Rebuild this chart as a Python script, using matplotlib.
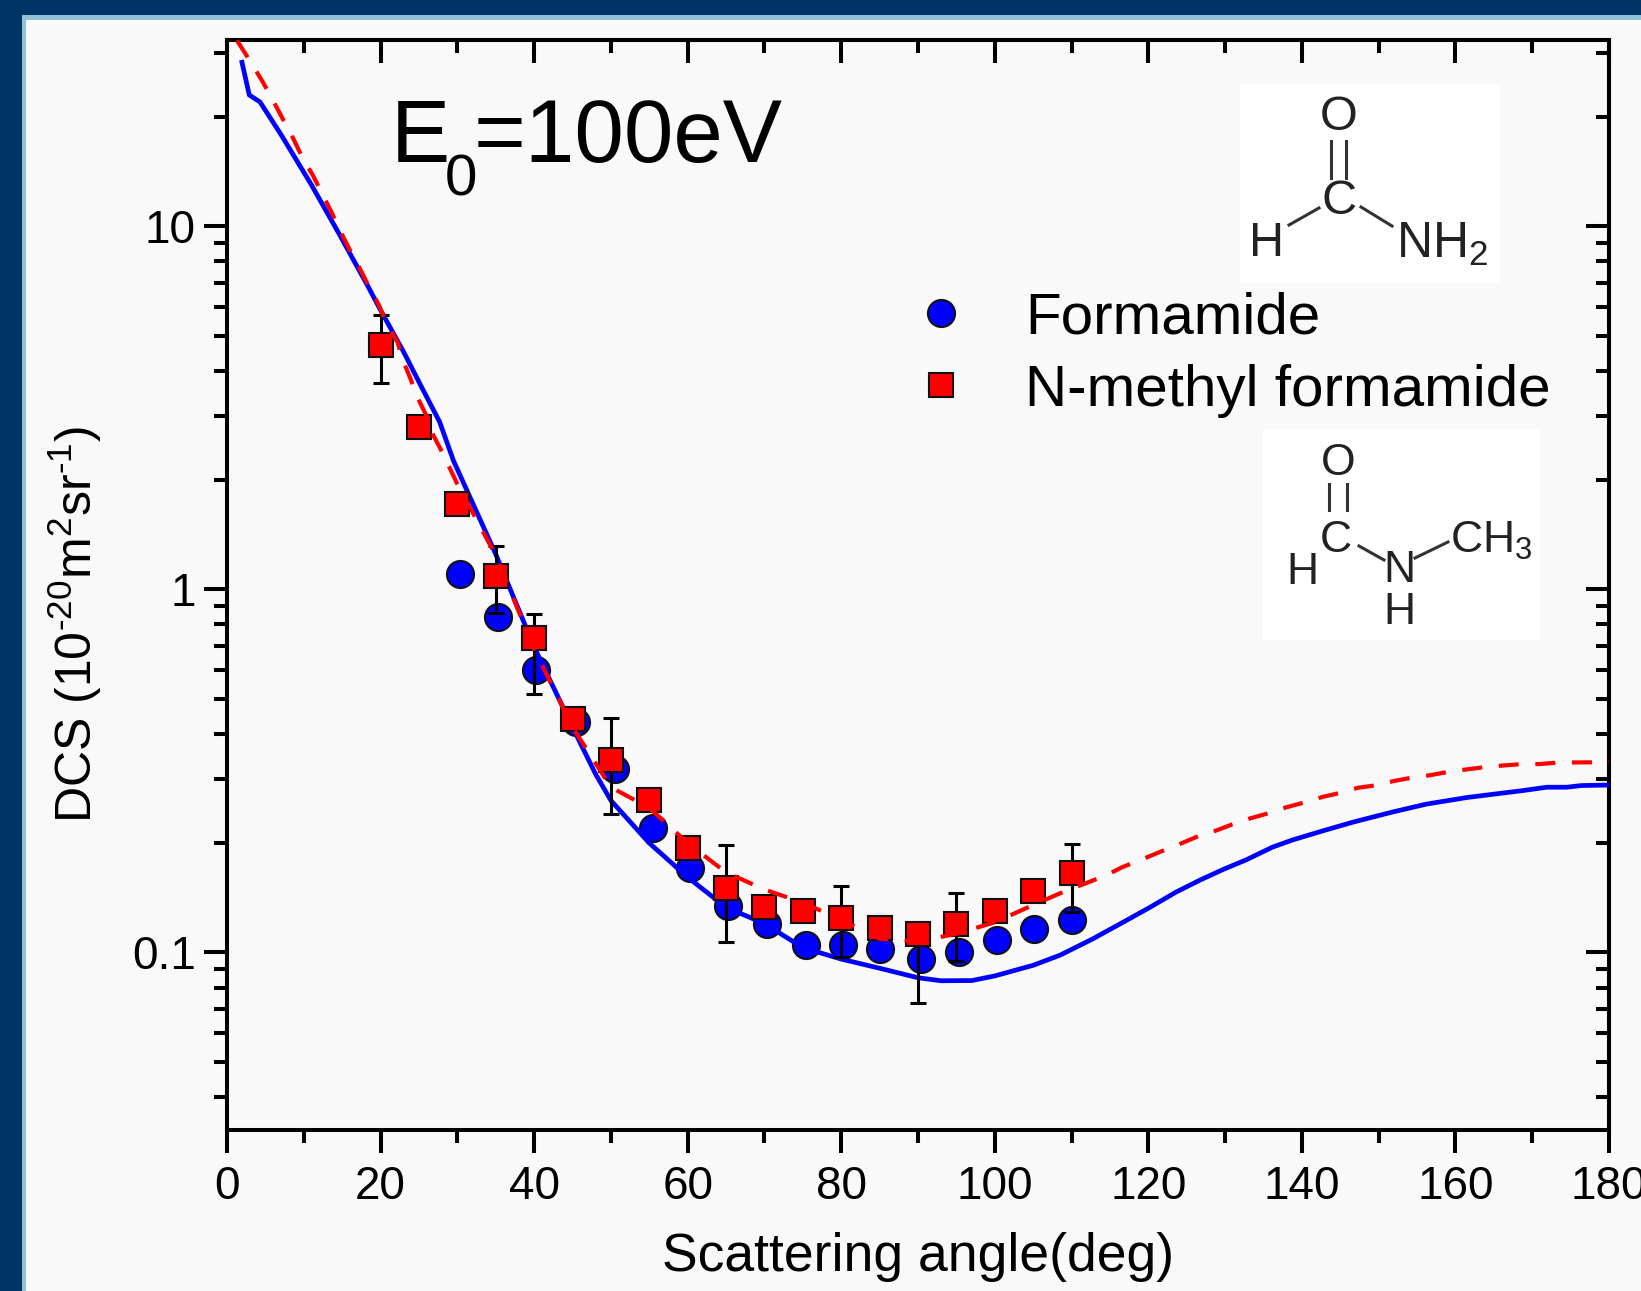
"""DCS of formamide and N-methyl formamide at 100 eV."""

import matplotlib
matplotlib.use("Agg")
import matplotlib.pyplot as plt
from matplotlib.lines import Line2D
from matplotlib.patches import Rectangle
from matplotlib.ticker import FixedLocator, NullFormatter

W, H = 1641, 1291

form_x = [30.3, 35.3, 40.3, 45.5, 50.5, 55.5, 60.3, 65.3, 70.3, 75.4, 80.2, 85.1, 90.4, 95.4, 100.3, 105.1, 110.1]
form_y = [1.105, 0.841, 0.600, 0.431, 0.319, 0.220, 0.171, 0.134, 0.120, 0.105, 0.105, 0.102, 0.096, 0.100, 0.108, 0.116, 0.123]

nmf_x = [20, 25, 30, 35, 40, 45, 50, 55, 60, 65, 70, 75, 80, 85, 90, 95, 100, 105, 110]
nmf_y = [4.70, 2.80, 1.72, 1.09, 0.732, 0.439, 0.339, 0.263, 0.194, 0.150, 0.133, 0.130, 0.124, 0.117, 0.112, 0.120, 0.130, 0.148, 0.165]

err_x = [20, 35, 40, 50, 65, 80, 90, 95, 110]
err_mid = [4.70, 1.09, 0.732, 0.339, 0.150, 0.124, 0.112, 0.120, 0.165]
err_hi = [5.69, 1.32, 0.853, 0.442, 0.197, 0.152, 0.120, 0.146, 0.199]
err_lo = [3.70, 0.858, 0.515, 0.240, 0.107, 0.097, 0.0727, 0.0945, 0.129]

theory_form_x = [1.95, 2.9, 4.3, 7.1, 11.0, 14.7, 18.4, 19.9, 23, 25.1, 27.7, 29.5, 35, 40, 45, 48, 50, 55, 60, 65, 70, 75, 80, 85, 90, 93, 97, 100, 105, 108.5, 112.8, 116.7, 120.2, 123.6, 126.7, 129.7, 132.8, 136.2, 138.8, 142.7, 146.7, 151.8, 156.2, 161.5, 168.8, 171.9, 174.5, 176.4, 180]
theory_form_y = [28.3, 23.0, 22.0, 17.8, 13.0, 9.45, 6.81, 5.93, 4.51, 3.69, 2.89, 2.26, 1.25, 0.694, 0.417, 0.31, 0.262, 0.20, 0.161, 0.133, 0.120, 0.103, 0.0958, 0.0904, 0.0851, 0.0835, 0.0836, 0.0861, 0.0921, 0.0982, 0.109, 0.121, 0.133, 0.1465, 0.158, 0.169, 0.180, 0.195, 0.204, 0.216, 0.2285, 0.2435, 0.256, 0.267, 0.279, 0.285, 0.285, 0.288, 0.289]

theory_nmf_x = [1.3, 3.2, 4.7, 6.0, 7.3, 8.6, 9.8, 11.2, 12.3, 13.6, 14.7, 16, 17.2, 18.5, 19.7, 20.8, 22.2, 22.9, 23.9, 24.9, 26, 26.9, 28.1, 30, 35, 40, 45, 50, 55, 60, 65, 70, 75, 80, 85, 90, 95, 100, 105, 108.5, 114.5, 116.7, 119.1, 121.5, 123.9, 126.3, 128.7, 130.9, 133.3, 135.6, 138, 140.4, 142.7, 145, 147.3, 149.7, 152, 154.4, 156.7, 159, 161.4, 163.8, 166.2, 168.6, 170.9, 173.2, 175.5, 180]
theory_nmf_y = [32.5, 28.1, 24.9, 22.2, 19.7, 17.5, 15.5, 13.8, 12.4, 10.95, 9.75, 8.6, 7.73, 6.81, 6.12, 5.4, 4.8, 4.28, 3.8, 3.35, 3.0, 2.65, 2.37, 1.95, 1.24, 0.685, 0.417, 0.285, 0.25, 0.20, 0.166, 0.149, 0.137, 0.123, 0.109, 0.107, 0.1125, 0.121, 0.135, 0.1454, 0.163, 0.172, 0.180, 0.189, 0.198, 0.208, 0.216, 0.225, 0.234, 0.2415, 0.251, 0.259, 0.268, 0.275, 0.284, 0.2885, 0.2965, 0.303, 0.3075, 0.314, 0.319, 0.3236, 0.327, 0.33, 0.33, 0.333, 0.3335, 0.334]

x_ticks = list(range(0, 181, 20))
x_minor = list(range(10, 180, 20))
y_ticks = [0.1, 1, 10]
y_labels = ["0.1", "1", "10"]
y_minor = [m * d for d in (0.01, 0.1, 1, 10) for m in range(2, 10)]

plt.rcParams["font.family"] = ["Liberation Sans", "DejaVu Sans"]
plt.rcParams["mathtext.fontset"] = "custom"
plt.rcParams["mathtext.rm"] = "Liberation Sans"
plt.rcParams["mathtext.default"] = "regular"

fig = plt.figure(figsize=(W / 100, H / 100), dpi=100, facecolor="#003465")


def fx(px):
    return px / W


def fy(py):
    return 1 - py / H


# frame
fig.add_artist(Rectangle((fx(22), 0), 1, fy(15), transform=fig.transFigure, fc="#8fc3d3", ec="none", zorder=-2))
fig.add_artist(Rectangle((fx(26), 0), 1, fy(20), transform=fig.transFigure, fc="#f9f9f9", ec="none", zorder=-1))

ax = fig.add_axes([fx(227), fy(1130), fx(1609 - 227), (1130 - 40) / H], facecolor="none")

ax.plot(form_x, form_y, "o", ms=19.5, mfc="#0000ff", mec="#111111", mew=1.5, ls="none", zorder=3, label="Formamide")
ax.plot(theory_form_x, theory_form_y, color="#0000ff", lw=3.4, zorder=4)
lows = [m - l for m, l in zip(err_mid, err_lo)]
highs = [h - m for m, h in zip(err_mid, err_hi)]
ax.errorbar(err_x, err_mid, yerr=[lows, highs], fmt="none", ecolor="black", elinewidth=2.2, capsize=6, capthick=2.2, zorder=5)
ax.plot(nmf_x, nmf_y, "s", ms=17, mfc="#ff0000", mec="#111111", mew=1.5, ls="none", zorder=6, label="N-methyl formamide")
ax.plot(theory_nmf_x, theory_nmf_y, color="#ff0000", lw=3, dashes=(4.8, 4), zorder=7)

ax.set_yscale("log")
ax.set_xlim(0, 180)
ax.set_ylim(0.0324, 32.6)
ax.set_xticks(x_ticks)
ax.xaxis.set_minor_locator(FixedLocator(x_minor))
ax.yaxis.set_major_locator(FixedLocator(y_ticks))
ax.set_yticklabels(y_labels)
ax.yaxis.set_minor_locator(FixedLocator(y_minor))
ax.yaxis.set_minor_formatter(NullFormatter())

for side in ax.spines:
    ax.spines[side].set_linewidth(2.9)
ax.tick_params(which="major", length=16.5, width=2.9, labelsize=33)
ax.tick_params(axis="x", which="major", pad=8.5)
ax.tick_params(axis="y", which="major", pad=6)
ax.tick_params(which="minor", length=9.5, width=2.9)
ax.set_xlabel("Scattering angle(deg)", fontsize=38.5, labelpad=17)
ax.set_ylabel(r"DCS (10$^{\text{-}20}$m$^{2}$sr$^{\text{-}1}$)", fontsize=36)
ax.yaxis.set_label_coords(-0.0888, 0.464)

# right and top ticks without labels
ax_r = ax.secondary_yaxis("right")
ax_r.yaxis.set_major_locator(FixedLocator(y_ticks))
ax_r.yaxis.set_minor_locator(FixedLocator(y_minor))
ax_r.yaxis.set_major_formatter(NullFormatter())
ax_r.yaxis.set_minor_formatter(NullFormatter())
ax_r.tick_params(which="major", direction="in", length=16.5, width=2.9)
ax_r.tick_params(which="minor", direction="in", length=9.5, width=2.9)
ax_r.spines["right"].set_linewidth(2.9)
ax_t = ax.secondary_xaxis("top")
ax_t.set_xticks(x_ticks)
ax_t.xaxis.set_minor_locator(FixedLocator(x_minor))
ax_t.xaxis.set_major_formatter(NullFormatter())
ax_t.tick_params(which="major", direction="in", length=16.5, width=2.9)
ax_t.tick_params(which="minor", direction="in", length=9.5, width=2.9)
ax_t.spines["top"].set_linewidth(2.9)

fig.text(fx(391), fy(162), "E", fontsize=64, va="baseline", ha="left")
fig.text(fx(445), fy(196), "0", fontsize=42, va="baseline", ha="left")
fig.text(fx(474), fy(162), "=100eV", fontsize=64, va="baseline", ha="left")

ax.legend(loc="upper left", bbox_to_anchor=((883 - 227) / 1382, 1 - (291.5 - 40) / 1090), frameon=False,
          fontsize=42, handletextpad=0.44, labelspacing=0.31, borderpad=0, borderaxespad=0, numpoints=1)

# molecule sketches
fig.add_artist(Rectangle((fx(1240), fy(283)), fx(260), 199 / H, transform=fig.transFigure, fc="white", ec="none", zorder=8))
fig.add_artist(Rectangle((fx(1263), fy(640)), fx(277), 211 / H, transform=fig.transFigure, fc="white", ec="none", zorder=8))


def atom(px, py, s, size, ha="center"):
    fig.text(fx(px), fy(py), s, fontsize=size, ha=ha, va="center", color="#222222", zorder=9)


def bond(x0, y0, x1, y1):
    fig.add_artist(Line2D([fx(x0), fx(x1)], [fy(y0), fy(y1)], color="#333333", lw=2.2, zorder=9))


atom(1339, 118, "O", 35)
atom(1339, 201, "C", 35)
atom(1267, 244, "H", 35)
atom(1396, 244, r"NH$_{2}$", 36, ha="left")
bond(1331, 141, 1331, 178)
bond(1346, 141, 1346, 178)
bond(1289, 225, 1319, 208)
bond(1361, 207, 1392, 226)

atom(1338, 464, "O", 32)
atom(1336, 541, "C", 32)
atom(1302, 572, "H", 32)
atom(1399, 570, "N", 32)
atom(1399, 613, "H", 32)
atom(1450, 541, r"CH$_{3}$", 32, ha="left")
bond(1329, 484, 1329, 510)
bond(1347, 484, 1347, 510)
bond(1359, 546, 1384, 560)
bond(1415, 558, 1448, 542)

fig.savefig("out.png", dpi=100, facecolor=fig.get_facecolor())
